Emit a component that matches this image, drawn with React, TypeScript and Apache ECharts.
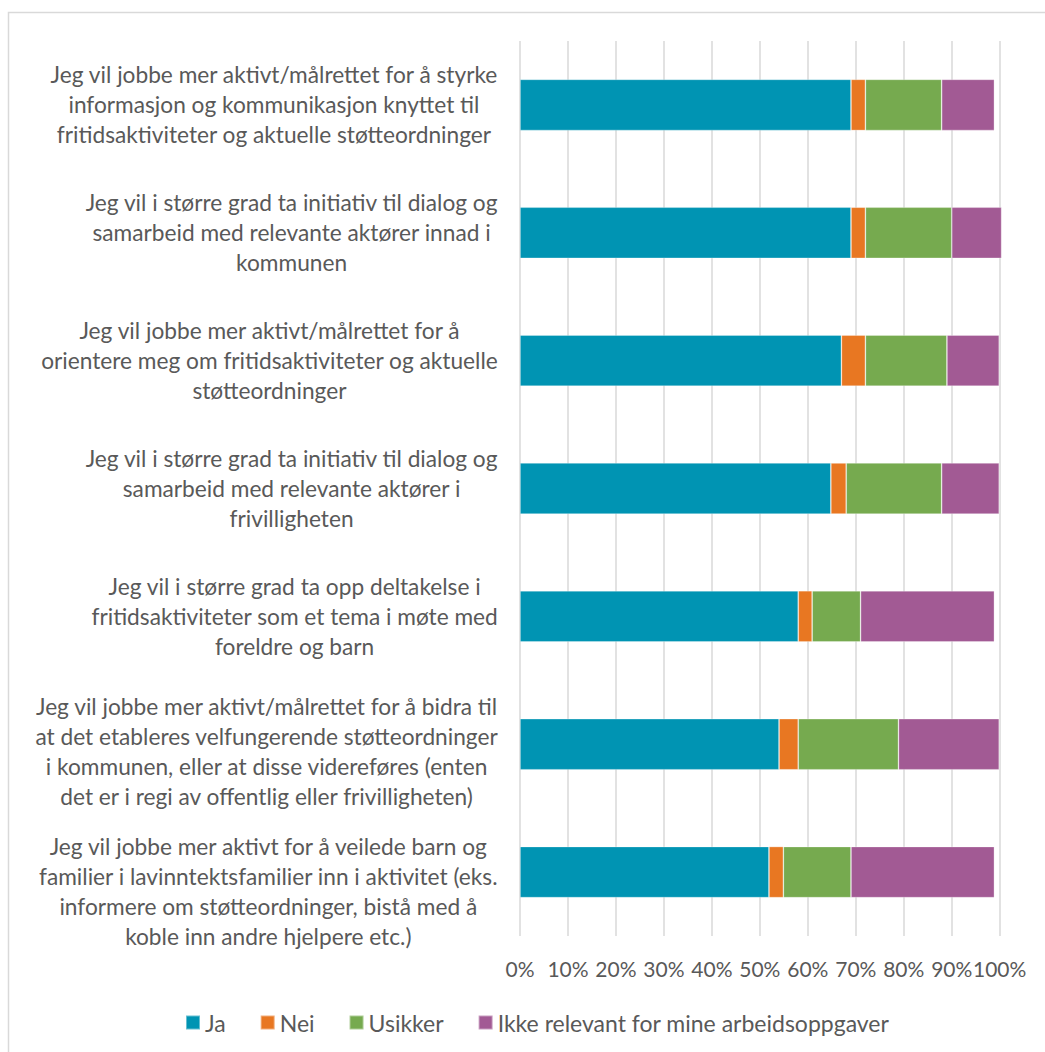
import React, { useEffect, useRef } from "react";
import * as echarts from "echarts";

const categories: string[] = [
  "Jeg vil jobbe mer aktivt/målrettet for å styrke\ninformasjon og kommunikasjon knyttet til\nfritidsaktiviteter og aktuelle støtteordninger",
  "Jeg vil i større grad ta initiativ til dialog og\nsamarbeid med relevante aktører innad i\nkommunen",
  "Jeg vil jobbe mer aktivt/målrettet for å\norientere meg om fritidsaktiviteter og aktuelle\nstøtteordninger",
  "Jeg vil i større grad ta initiativ til dialog og\nsamarbeid med relevante aktører i\nfrivilligheten",
  "Jeg vil i større grad ta opp deltakelse i\nfritidsaktiviteter som et tema i møte med\nforeldre og barn",
  "Jeg vil jobbe mer aktivt/målrettet for å bidra til\nat det etableres velfungerende støtteordninger\ni kommunen, eller at disse videreføres (enten\ndet er i regi av offentlig eller frivilligheten)",
  "Jeg vil jobbe mer aktivt for å veilede barn og\nfamilier i lavinntektsfamilier inn i aktivitet (eks.\ninformere om støtteordninger, bistå med å\nkoble inn andre hjelpere etc.)",
];

const seriesNames: string[] = ["Ja", "Nei", "Usikker", "Ikke relevant for mine arbeidsoppgaver"];
const ja: number[] = [69.0, 69.0, 67.0, 64.8, 58.0, 54.0, 51.9];
const nei: number[] = [3.0, 3.0, 5.0, 3.2, 2.9, 4.0, 3.0];
const usikker: number[] = [15.9, 18.0, 17.0, 19.9, 10.1, 20.9, 14.1];
const ikke: number[] = [11.0, 10.4, 10.9, 12.0, 27.9, 21.0, 29.9];
const colors: string[] = ["#0094B3", "#E87722", "#76AA4F", "#A25A94"];
const labelShift: number[] = [0, 0, 0, 0, 0, 14, 38];

const FONT = "Lato";
const TEXT = "#595959";

export default function App() {
  const ref = useRef<HTMLDivElement>(null);
  useEffect(() => {
    if (!ref.current) return;
    const chart = echarts.init(ref.current, undefined, { renderer: "svg" });
    const values = [ja, nei, usikker, ikke];
    chart.setOption({
      animation: false,
      textStyle: { fontFamily: FONT },
      graphic: [
        {
          type: "rect",
          shape: { x: 8.5, y: 12.5, width: 1200, height: 1200 },
          style: { fill: "none", stroke: "#d9d9d9", lineWidth: 1.5 },
          silent: true,
          z: -10,
        },
      ],
      grid: { left: 520, right: 45.3, top: 41, bottom: 116, containLabel: false },
      legend: {
        top: 1011,
        left: 185,
        padding: 0,
        itemWidth: 14,
        itemHeight: 14,
        itemGap: 34,
        icon: "rect",
        textStyle: { color: TEXT, fontSize: 23, fontFamily: FONT },
        data: seriesNames,
      },
      xAxis: {
        type: "value",
        min: 0,
        max: 100,
        interval: 10,
        axisLine: { show: false },
        axisTick: { show: false },
        splitLine: { show: true, lineStyle: { color: "#d9d9d9", width: 1.5 } },
        axisLabel: {
          color: TEXT,
          fontSize: 21,
          fontFamily: FONT,
          margin: 22,
          formatter: (v: number) => `${v}%`,
        },
      },
      yAxis: {
        type: "category",
        inverse: true,
        data: categories.map((c, i) => ({
          value: c,
          textStyle: labelShift[i] ? { padding: [labelShift[i], 0, 0, 0] } : {},
        })),
        axisLine: { show: false },
        axisTick: { show: false },
        axisLabel: {
          color: TEXT,
          fontSize: 22.7,
          fontFamily: FONT,
          margin: 22,
          align: "right",
          interval: 0,
          formatter: (v: string) =>
            v
              .split("\n")
              .map((l) => `{c|${l}}`)
              .join("\n"),
          rich: {
            c: {
              align: "center",
              color: TEXT,
              fontSize: 22.7,
              fontFamily: FONT,
              lineHeight: 30,
            },
          },
        },
      },
      series: seriesNames.map((name, si) => ({
        name,
        type: "bar",
        stack: "total",
        barWidth: "40%",
        clip: false,
        itemStyle: { color: colors[si], borderColor: "rgba(255,255,255,0.4)", borderWidth: 0.75 },
        data: values[si],
      })),
    });
    return () => chart.dispose();
  }, []);
  return (
    <div
      ref={ref}
      style={{ position: "fixed", left: 0, top: 0, width: 1045, height: 1052, background: "#fff" }}
    />
  );
}
